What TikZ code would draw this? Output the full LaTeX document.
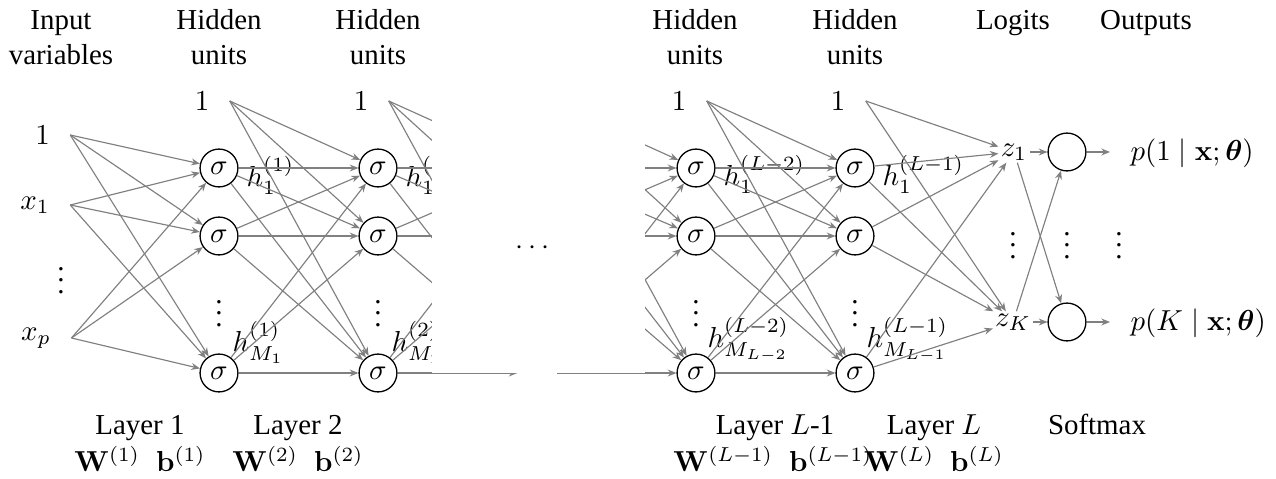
\documentclass[tikz,border=0pt]{standalone}
\usepackage{amsmath,amssymb}
\usepackage[no-math]{fontspec}
\setmainfont{Liberation Serif}
\usetikzlibrary{arrows.meta}
\begin{document}
\begin{tikzpicture}[x=0.346pt,y=-0.346pt,
  edge/.style={draw=black!50, line width=0.4pt, -{Stealth[length=3pt,width=2.4pt]}},
  unit/.style={circle, draw, line width=0.45pt, minimum size=13.1pt, inner sep=0pt},
  ghost/.style={circle, minimum size=13.1pt, inner sep=0pt},
  innode/.style={inner xsep=6.9pt, inner ysep=1pt},
  hlab/.style={anchor=base west, inner sep=0pt},
  head/.style={anchor=base, inner sep=0pt},
  zlab/.style={inner sep=0.6pt},
  outlab/.style={anchor=west, inner sep=0pt}]
\useasboundingbox (0,0) rectangle (1276,479);

% headers
\node[head] (hA1) at (61,30) {Input};
\node[head] (hA2) at (61,65) {variables};
\node[head] (hB1) at (219,30) {Hidden};
\node[head] (hB2) at (219,65) {units};
\node[head] (hC1) at (378,30) {Hidden};
\node[head] (hC2) at (378,65) {units};
\node[head] (hD1) at (695,30) {Hidden};
\node[head] (hD2) at (695,65) {units};
\node[head] (hE1) at (855,30) {Hidden};
\node[head] (hE2) at (855,65) {units};
\node[head] (hF1) at (1013,30) {Logits};
\node[head] (hG1) at (1146,30) {Outputs};

% footers
\node[head] (fA1) at (140,435) {Layer 1};
\node[head] (fA2) at (140,472) {$\mathbf{W}^{(1)}$\hspace{5.5pt}$\mathbf{b}^{(1)}$};
\node[head] (fB1) at (298,435) {Layer 2};
\node[head] (fB2) at (298,472) {$\mathbf{W}^{(2)}$\hspace{5.5pt}$\mathbf{b}^{(2)}$};
\node[head] (fC1) at (775,435) {Layer $L$-1};
\node[head] (fC2) at (773,472) {$\mathbf{W}^{(L-1)}$\hspace{5.5pt}$\mathbf{b}^{(L-1)}$};
\node[head] (fD1) at (934,435) {Layer $L$};
\node[head] (fD2) at (934,472) {$\mathbf{W}^{(L)}$\hspace{5.5pt}$\mathbf{b}^{(L)}$};
\node[head] (fE1) at (1097,435) {Softmax};

% inputs
\node[innode] (i0) at (42.5,135) {$1$};
\node[innode] (i1) at (35,205) {$x_1$};
\node (iv) at (61,272) {$\vdots$};
\node[innode] (ip) at (36,338) {$x_p$};

% hidden layers
\foreach \n/\X in {a/219,b/378,c/696,d/855} {
  \node[unit] (\n1) at (\X,168) {$\sigma$};
  \node[unit] (\n2) at (\X,236) {$\sigma$};
  \node[unit] (\n3) at (\X,373) {$\sigma$};
  \node (\n v) at (\X,305) {$\vdots$};
  \node[innode] (\n b) at (\X-17,101) {$1$};
}
% hidden (covered) layer
\node[ghost] (g1) at (537,168) {};
\node[ghost] (g2) at (537,236) {};
\node[ghost] (g3) at (537,373) {};
\node[innode] (gb) at (520,101) {\phantom{$1$}};

% unit labels
\node[hlab] (la1) at (246,187) {$h_1^{(1)}$};
\node[hlab] (la3) at (232,352) {$h_{M_1}^{(1)}$};
\node[hlab] (lb1) at (405,187) {$h_1^{(2)}$};
\node[hlab] (lb3) at (391,352) {$h_{M_2}^{(2)}$};
\node[hlab] (lc1) at (723,186) {$h_1^{(L-2)}$};
\node[hlab] (lc3) at (707,348) {$h_{M_{L-2}}^{(L-2)}$};
\node[hlab] (ld1) at (882,186) {$h_1^{(L-1)}$};
\node[hlab] (ld3) at (866,348) {$h_{M_{L-1}}^{(L-1)}$};

% logits, softmax, outputs
\node[zlab] (z1) at (1014,152) {$z_1$};
\node[zlab] (zK) at (1013,322) {$z_K$};
\node (zv) at (1013,237) {$\vdots$};
\node[unit] (s1) at (1067,152) {};
\node[unit] (sK) at (1067,322) {};
\node (sv) at (1067,237) {$\vdots$};
\coordinate (o1c) at (1110,152);
\coordinate (oKc) at (1110,322);
\node[outlab] (p1) at (1130,153) {$p(1\mid\mathbf{x};\boldsymbol{\theta})$};
\node[outlab] (pK) at (1130,323) {$p(K\mid\mathbf{x};\boldsymbol{\theta})$};
\node (pv) at (1119,237) {$\vdots$};

% connections
\foreach \s in {i0,i1,ip} \foreach \t in {a1,a2,a3} \draw[edge] (\s.east) -- (\t);
\foreach \s in {ab.east,a1,a2,a3} \foreach \t in {b1,b2,b3} \draw[edge] (\s) -- (\t);
\foreach \s in {bb.east,b1,b2,b3} \foreach \t in {g1,g2,g3} \draw[edge] (\s) -- (\t);
\foreach \s in {gb.east,g1,g2,g3} \foreach \t in {c1,c2,c3} \draw[edge] (\s) -- (\t);
\foreach \s in {cb.east,c1,c2,c3} \foreach \t in {d1,d2,d3} \draw[edge] (\s) -- (\t);
\foreach \s in {db.east,d1,d2,d3} \foreach \t in {z1,zK} \draw[edge] (\s) -- (\t);
\foreach \s in {z1,zK} \foreach \t in {s1,sK} \draw[edge] (\s) -- (\t);
\draw[edge] (s1) -- (o1c);
\draw[edge] (sK) -- (oKc);

% gap between layer 2 and layer L-1
\fill[white] (432,85) rectangle (645,373);
\node (gapdots) at (535,248) {$\cdots$};
\end{tikzpicture}
\end{document}
